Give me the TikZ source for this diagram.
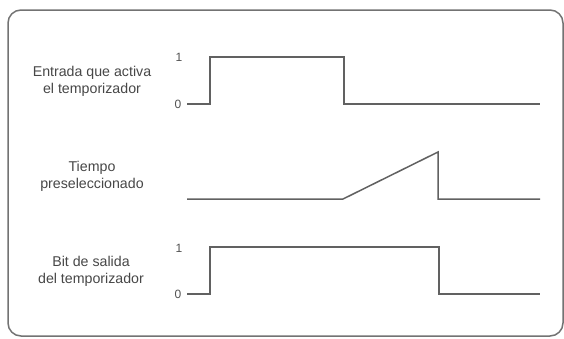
\documentclass[tikz,border=0pt]{standalone}
\usepackage{fontspec}
\setmainfont{Liberation Sans}
\begin{document}
\begin{tikzpicture}[x=1pt,y=-1pt,
  frame/.style={draw=black!55, line width=1.5pt, rounded corners=13pt},
  wave/.style={draw=black!62, line width=1.5pt, line join=miter},
  caption/.style={font=\fontsize{14.2}{17}\selectfont, text=black!72, align=center, inner sep=0pt},
  level/.style={font=\fontsize{12}{14}\selectfont, text=black!68, inner sep=0pt}]
\useasboundingbox (0,0) rectangle (564,338);
\fill[white] (0,0) rectangle (564,338);
% outer frame
\draw[frame] (8,10) rectangle (563,336);

% input signal that starts the timer
\node[caption] (cin) at (92,81) {Entrada que activa\\el temporizador};
\node[level] (in1) at (179,57) {1};
\node[level] (in0) at (178,104) {0};
\draw[wave] (187,104) -- (210,104) -- (210,57) -- (344,57) -- (344,104) -- (540,104);

% preset time ramp
\node[caption] (cpre) at (92,176) {Tiempo\\preseleccionado};
\draw[wave] (187,199) -- (343,199) -- (438,152) -- (438,199) -- (540,199);

% timer output bit
\node[caption] (cout) at (91,271) {Bit de salida\\del temporizador};
\node[level] (out1) at (179,248) {1};
\node[level] (out0) at (178,294) {0};
\draw[wave] (187,294) -- (210,294) -- (210,247) -- (439,247) -- (439,294) -- (540,294);
\end{tikzpicture}
\end{document}
